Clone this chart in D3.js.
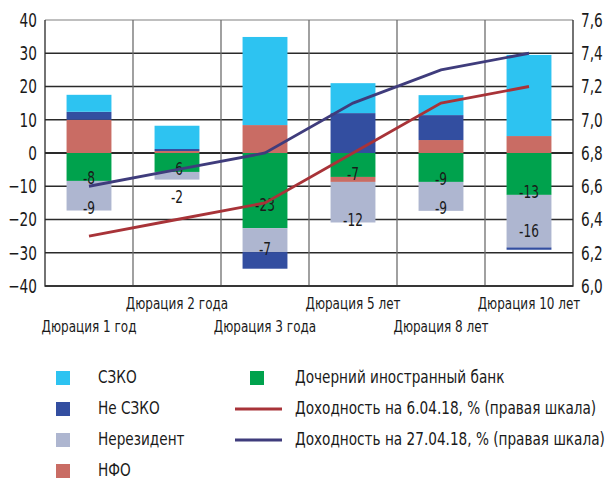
<!DOCTYPE html>
<html>
<head>
<meta charset="utf-8">
<script src="https://cdn.jsdelivr.net/npm/d3@7"></script>
<style>
  body { margin: 0; background: #fff; }
  svg text { font-family: "DejaVu Sans Condensed", "Liberation Sans", sans-serif; fill: #1a1a1a; }
</style>
</head>
<body>
<svg id="chart" width="612" height="485"></svg>
<script>
// data
var categories = ["Дюрация 1 год", "Дюрация 2 года", "Дюрация 3 года", "Дюрация 5 лет", "Дюрация 8 лет", "Дюрация 10 лет"];
var szko = [5.1, 7.0, 26.5, 9.0, 6.0, 24.4];
var neSzko = [2.4, 0.6, -5.0, 12.0, 7.5, -0.7];
var nerezident = [-8.9, -2.3, -7.2, -12.2, -8.7, -15.8];
var nfo = [10.0, 0.6, 8.4, -1.5, 3.9, 5.1];
var dochBank = [-8.4, -5.7, -22.6, -7.2, -8.7, -12.6];
var yield0604 = [6.3, 6.4, 6.5, 6.8, 7.1, 7.2];
var yield2704 = [6.6, 6.7, 6.8, 7.1, 7.3, 7.4];
var leftTicks = [-40, -30, -20, -10, 0, 10, 20, 30, 40];
var rightTicks = [6.0, 6.2, 6.4, 6.6, 6.8, 7.0, 7.2, 7.4, 7.6];

var colors = {
    szko: "#2dc3f1",
    neSzko: "#334ea0",
    nerezident: "#aeb6d0",
    nfo: "#c96c64",
    doch: "#00a24d",
    red: "#a83338",
    navy: "#3f3c7c"
};

var margin = { left: 45, right: 39, top: 20, bottom: 199 };
var width = 612, height = 485;
var svg = d3.select("#chart");

// the source font is very narrow, so squeeze text horizontally
function squeeze(sel, sx) {
    sel.each(function () {
        var t = d3.select(this);
        var tx = +t.attr("x") || 0;
        t.attr("transform", "translate(" + tx + ",0) scale(" + sx + ",1)").attr("x", 0);
    });
}

var x = d3.scaleBand()
    .domain(categories)
    .range([margin.left, width - margin.right])
    .paddingInner(0.49)
    .paddingOuter(0.245);
var xCell = d3.scaleBand().domain(categories).range([margin.left, width - margin.right]);
var yL = d3.scaleLinear().domain([-40, 40]).range([height - margin.bottom, margin.top]);
var yR = d3.scaleLinear().domain([6.0, 7.6]).range([height - margin.bottom, margin.top]);

var rows = categories.map(function (c, i) {
    return { cat: c, doch: dochBank[i], nfo: nfo[i], nerezident: nerezident[i], neSzko: neSzko[i], szko: szko[i] };
});
var keys = ["doch", "nfo", "nerezident", "neSzko", "szko"];
var series = d3.stack().keys(keys).offset(d3.stackOffsetDiverging)(rows);

// grid
var grid = svg.append("g");
grid.selectAll("line.h")
    .data(leftTicks)
    .join("line")
    .attr("x1", margin.left).attr("x2", width - margin.right)
    .attr("y1", function (d) { return yL(d); }).attr("y2", function (d) { return yL(d); })
    .attr("stroke", function (d) { return d === 40 ? "#aaa" : "#2a2a2a"; })
    .attr("stroke-width", function (d) { return d === 0 ? 2 : 1.3; });
grid.selectAll("line.v")
    .data(categories.slice(1))
    .join("line")
    .attr("x1", function (d) { return xCell(d); }).attr("x2", function (d) { return xCell(d); })
    .attr("y1", margin.top).attr("y2", height - margin.bottom)
    .attr("stroke", "#6e6e6e").attr("stroke-width", 1.3);

// bars
svg.append("g").selectAll("g")
    .data(series)
    .join("g")
    .attr("fill", function (s) { return colors[s.key]; })
    .selectAll("rect")
    .data(function (s) { return s; })
    .join("rect")
    .attr("x", function (d) { return x(d.data.cat); })
    .attr("width", x.bandwidth())
    .attr("y", function (d) { return yL(Math.max(d[0], d[1])); })
    .attr("height", function (d) { return Math.abs(yL(d[0]) - yL(d[1])); });

// frame
svg.append("path")
    .attr("d", "M" + margin.left + "," + margin.top + "V" + yL(-40) + "H" + (width - margin.right) + "V" + margin.top)
    .attr("fill", "none").attr("stroke", "#2a2a2a").attr("stroke-width", 1.3);

// value labels for green and nonresident segments
var labelled = series.filter(function (s) { return s.key === "doch" || s.key === "nerezident"; });
labelled.forEach(function (s) {
    svg.append("g").selectAll("text")
        .data(s)
        .join("text")
        .attr("x", function (d) { return x(d.data.cat) + x.bandwidth() / 2; })
        .attr("y", function (d) {
            var top = yL(d[1]), bottom = yL(d[0]);
            var len = bottom - top;
            if (len < 12) return bottom + 18;
            if (len > 45) return bottom - len * 0.3;
            return bottom - 2;
        })
        .attr("text-anchor", "middle")
        .attr("dominant-baseline", "middle")
        .style("font-size", "18px")
        .text(function (d) { return Math.round(d.data[s.key]); })
        .call(squeeze, 0.75);
});

// lines
var line = function (vals) {
    return d3.line()
        .x(function (d, i) { return xCell(categories[i]) + xCell.bandwidth() / 2; })
        .y(function (d) { return yR(d); })(vals);
};
svg.append("path").attr("d", line(yield0604))
    .attr("fill", "none").attr("stroke", colors.red).attr("stroke-width", 2.8);
svg.append("path").attr("d", line(yield2704))
    .attr("fill", "none").attr("stroke", colors.navy).attr("stroke-width", 2.8);

// axes
var axisL = d3.axisLeft(yL).tickValues(leftTicks).tickSize(0).tickPadding(8);
svg.append("g").attr("transform", "translate(" + margin.left + ",0)").call(axisL)
    .call(function (g) { g.select(".domain").remove(); })
    .selectAll("text").style("font-size", "20px").attr("fill", "#1a1a1a")
    .call(squeeze, 0.76);

var axisR = d3.axisRight(yR).tickValues(rightTicks).tickSize(0).tickPadding(8)
    .tickFormat(function (d) { return d3.format(".1f")(d).replace(".", ","); });
svg.append("g").attr("transform", "translate(" + (width - margin.right) + ",0)").call(axisR)
    .call(function (g) { g.select(".domain").remove(); })
    .selectAll("text").style("font-size", "20px").attr("fill", "#1a1a1a")
    .call(squeeze, 0.76);

// category labels in two staggered rows
svg.append("g").selectAll("text")
    .data(categories)
    .join("text")
    .attr("x", function (d) { return xCell(d) + xCell.bandwidth() / 2; })
    .attr("y", function (d, i) { return i % 2 === 1 ? 309 : 332; })
    .attr("text-anchor", "middle")
    .style("font-size", "16.5px")
    .text(function (d) { return d; })
    .call(squeeze, 0.81);

// legend
var legendItems = [
    { label: "СЗКО", color: colors.szko, type: "box", col: 0, row: 0 },
    { label: "Не СЗКО", color: colors.neSzko, type: "box", col: 0, row: 1 },
    { label: "Нерезидент", color: colors.nerezident, type: "box", col: 0, row: 2 },
    { label: "НФО", color: colors.nfo, type: "box", col: 0, row: 3 },
    { label: "Дочерний иностранный банк", color: colors.doch, type: "box", col: 1, row: 0 },
    { label: "Доходность на 6.04.18, % (правая шкала)", color: colors.red, type: "line", col: 1, row: 1 },
    { label: "Доходность на 27.04.18, % (правая шкала)", color: colors.navy, type: "line", col: 1, row: 2 }
];
var legend = svg.append("g");
var li = legend.selectAll("g")
    .data(legendItems)
    .join("g")
    .attr("transform", function (d) {
        return "translate(" + (d.col === 0 ? 56 : 250) + "," + (378 + d.row * 31) + ")";
    });
li.filter(function (d) { return d.type === "box"; })
    .append("rect")
    .attr("x", 0).attr("y", -7).attr("width", 14).attr("height", 14)
    .attr("fill", function (d) { return d.color; });
li.filter(function (d) { return d.type === "line"; })
    .append("line")
    .attr("x1", -15).attr("x2", 32).attr("y1", 0).attr("y2", 0)
    .attr("stroke", function (d) { return d.color; }).attr("stroke-width", 3);
li.append("text")
    .attr("x", function (d) { return d.col === 0 ? 42 : 45; })
    .attr("y", 0)
    .attr("dominant-baseline", "middle")
    .style("font-size", "18.5px")
    .text(function (d) { return d.label; })
    .call(squeeze, 0.82);
</script>
</body>
</html>
